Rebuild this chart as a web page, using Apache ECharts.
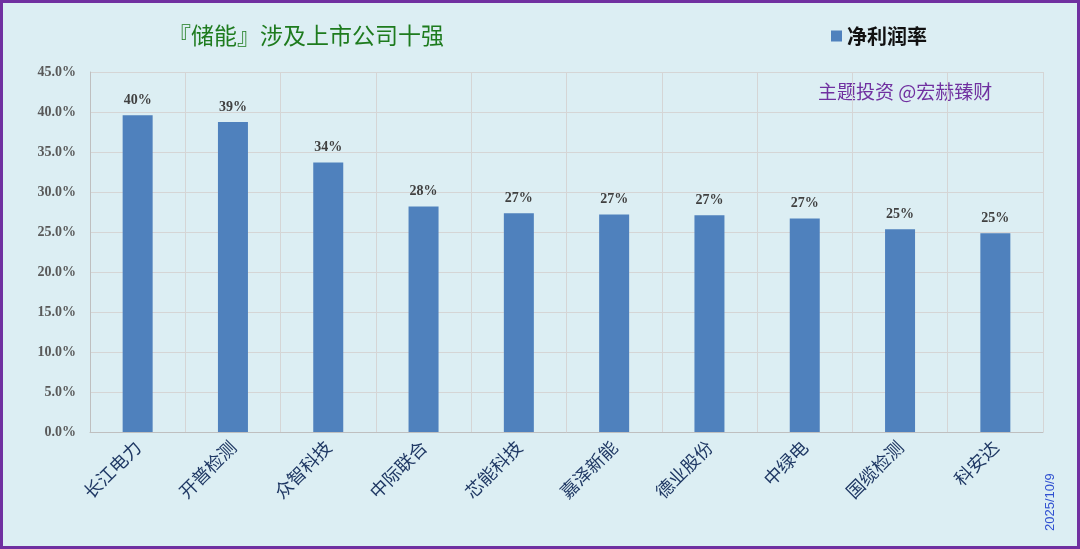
<!DOCTYPE html>
<html><head><meta charset="utf-8">
<script src="https://cdn.jsdelivr.net/npm/echarts@6/dist/echarts.min.js"></script>
<style>
html,body{margin:0;padding:0;}
#wrap{width:1080px;height:549px;box-sizing:border-box;border:3px solid #7030A0;background:#DCEEF3;position:relative;}
#c{position:absolute;left:-3px;top:-3px;width:1080px;height:549px;}
</style></head>
<body><div id="wrap"><div id="c"></div></div>
<script>
const categories = ['长江电力','开普检测','众智科技','中际联合','芯能科技','嘉泽新能','德业股份','中绿电','国缆检测','科安达'];
const netMargin = [39.6, 38.75, 33.7, 28.2, 27.35, 27.2, 27.1, 26.7, 25.35, 24.85];
const yTicks = [0, 5, 10, 15, 20, 25, 30, 35, 40, 45];
const titleText = '『储能』涉及上市公司十强';
const seriesName = '净利润率';
const watermark = '主题投资 @宏赫臻财';
const dateText = '2025/10/9';

const chart = echarts.init(document.getElementById('c'), null, {renderer:'canvas'});
chart.setOption({
  backgroundColor: 'transparent',
  animation: false,
  title: {text: titleText, left: 163, top: 19, textStyle:{color:'#1E7B1E', fontSize:23, fontWeight:'normal', fontFamily:'Noto Sans CJK SC'}},
  legend: {data:[seriesName], left: 826, top: 21, itemWidth: 11, itemHeight: 11, icon:'rect', itemGap:6,
    textStyle:{color:'#111', fontSize:20, fontWeight:'bold', fontFamily:'Noto Sans CJK SC'}},
  grid: {left: 90, right: 37, top: 72, bottom: 117, containLabel: false},
  xAxis: {type:'category', data: categories, boundaryGap: true,
    axisLine:{lineStyle:{color:'#BFBFBF'}}, axisTick:{show:false},
    splitLine:{show:true, lineStyle:{color:'#D5D5D5', width:1}},
    axisLabel:{rotate:45, interval:0, color:'#1F3864', fontSize:18, margin:12, fontFamily:'Noto Sans CJK SC'}},
  yAxis: {type:'value', min: yTicks[0], max: yTicks[yTicks.length-1], interval: 5,
    axisLine:{show:true, lineStyle:{color:'#BFBFBF'}}, axisTick:{show:false},
    splitLine:{lineStyle:{color:'#D5D5D5', width:1}},
    axisLabel:{color:'#595959', fontSize:14, fontWeight:'bold', fontFamily:'Liberation Serif', margin:14,
      formatter: v => v.toFixed(1) + '%'}},
  series: [{name: seriesName, type:'bar', data: netMargin, barWidth: 30,
    itemStyle:{color:'#4F81BD'},
    label:{show:true, position:'top', distance:8, color:'#404040', fontSize:14, fontWeight:'bold', fontFamily:'Liberation Serif',
      formatter: p => Math.round(p.value) + '%'}}],
  graphic: [
    {type:'text', left: 818, top: 82, style:{text: watermark, fill:'#7030A0', font:'19px "Noto Sans CJK SC"'}},
    {type:'text', x: 1057, y: 531, rotation: Math.PI/2, style:{text: dateText, fill:'#3050D0', font:'13px "Liberation Sans"', textAlign:'left', textVerticalAlign:'bottom'}}
  ]
});
</script></body></html>
